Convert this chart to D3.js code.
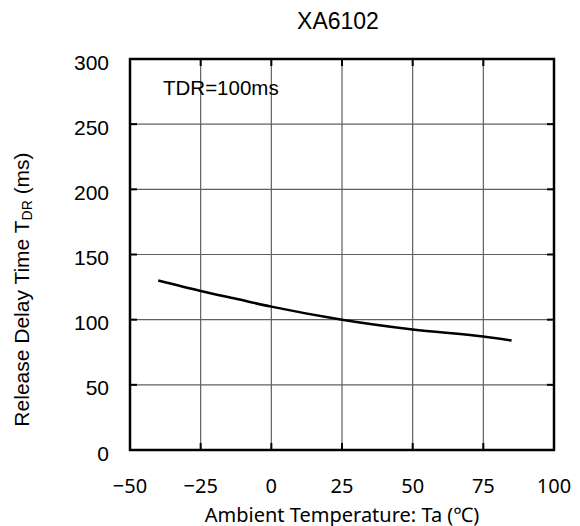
<!DOCTYPE html>
<html><head><meta charset="utf-8">
<script src="https://cdn.jsdelivr.net/npm/d3@7"></script>
<style>body{margin:0;background:#fff}svg{display:block}</style>
</head><body><svg id="c" width="580" height="526"></svg>
<script>
const temps = [-40, -25, -12.5, 0, 25, 50, 75, 85];
const delay = [130, 122, 116, 110, 100, 92.5, 87, 84];
const xTicks = [-50, -25, 0, 25, 50, 75, 100];
const yTicks = [0, 50, 100, 150, 200, 250, 300];
const title = "XA6102";
const note = "TDR=100ms";

const svg = d3.select("#c");
const L = 130, R = 554, T = 59, B = 450;
const x = d3.scaleLinear().domain([-50, 100]).range([L, R]);
const y = d3.scaleLinear().domain([0, 300]).range([B, T]);
const sans = "'Liberation Sans', Arial, sans-serif";
const jp = "'Noto Sans', 'Noto Sans CJK JP', sans-serif";

// grid
const g = svg.append("g");
g.selectAll("line.h").data(yTicks.slice(1, -1)).join("line")
  .attr("x1", L).attr("x2", R).attr("y1", d => y(d)).attr("y2", d => y(d))
  .attr("stroke", "#606060").attr("stroke-width", 1.2);
g.selectAll("line.v").data(xTicks.slice(1, -1)).join("line")
  .attr("y1", T).attr("y2", B).attr("x1", d => x(d)).attr("x2", d => x(d))
  .attr("stroke", "#606060").attr("stroke-width", 1.2);

// inward ticks
const tk = 7;
yTicks.slice(1, -1).forEach(v => {
  svg.append("line").attr("x1", L).attr("x2", L + tk).attr("y1", y(v)).attr("y2", y(v)).attr("stroke", "#000").attr("stroke-width", 2);
  svg.append("line").attr("x1", R).attr("x2", R - tk).attr("y1", y(v)).attr("y2", y(v)).attr("stroke", "#000").attr("stroke-width", 2);
});
xTicks.slice(1, -1).forEach(v => {
  svg.append("line").attr("y1", B).attr("y2", B - tk).attr("x1", x(v)).attr("x2", x(v)).attr("stroke", "#000").attr("stroke-width", 2);
  svg.append("line").attr("y1", T).attr("y2", T + tk).attr("x1", x(v)).attr("x2", x(v)).attr("stroke", "#000").attr("stroke-width", 2);
});

// frame
svg.append("rect").attr("x", L).attr("y", T).attr("width", R - L).attr("height", B - T)
  .attr("fill", "none").attr("stroke", "#000").attr("stroke-width", 2.5);

// curve
svg.append("path").datum(temps.map((t, i) => [t, delay[i]]))
  .attr("d", d3.line().x(d => x(d[0])).y(d => y(d[1])).curve(d3.curveMonotoneX))
  .attr("fill", "none").attr("stroke", "#000").attr("stroke-width", 2.5);

// y tick labels
svg.selectAll("text.yt").data(yTicks).join("text")
  .attr("x", 109).attr("y", d => y(d) + 10.5).attr("text-anchor", "end")
  .attr("font-family", sans).attr("font-size", 21).attr("fill", "#000").text(d => d);

// x tick labels
svg.selectAll("text.xt").data(xTicks).join("text")
  .attr("x", d => x(d)).attr("y", 493).attr("text-anchor", "middle")
  .attr("font-family", jp).attr("font-size", 20).attr("fill", "#000")
  .text(d => d < 0 ? "\u2212" + Math.abs(d) : String(d));

// title
svg.append("text").attr("x", 338).attr("y", 29).attr("text-anchor", "middle")
  .attr("font-family", sans).attr("font-size", 23).attr("fill", "#000").text(title);

// note
svg.append("text").attr("x", 163).attr("y", 95)
  .attr("font-family", sans).attr("font-size", 20.5).attr("fill", "#000").text(note);

// x label
svg.append("text").attr("x", 342).attr("y", 521.5).attr("text-anchor", "middle")
  .attr("font-family", jp).attr("font-size", 20).attr("fill", "#000")
  .text("Ambient Temperature: Ta (\u2103)");

// y label
const yl = svg.append("text").attr("transform", "translate(28.5,289.5) rotate(-90)")
  .attr("text-anchor", "middle").attr("font-family", sans).attr("font-size", 21).attr("fill", "#000");
yl.append("tspan").text("Release Delay Time T");
yl.append("tspan").attr("font-size", 14).attr("dy", 3).text("DR");
yl.append("tspan").attr("dy", -3).text(" (ms)");
</script></body></html>
